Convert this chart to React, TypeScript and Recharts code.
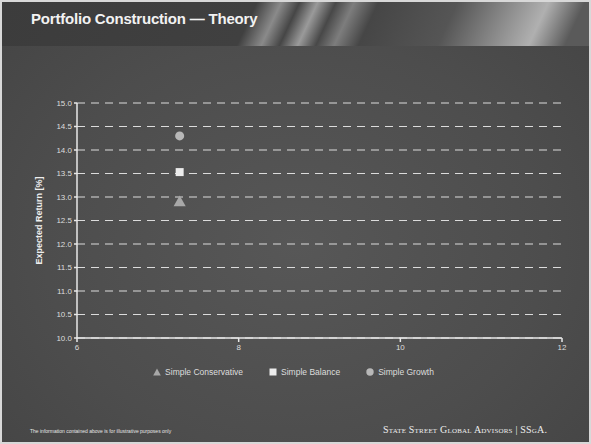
import { ScatterChart, Scatter, XAxis, YAxis, ZAxis, CartesianGrid, Legend } from 'recharts';

const conservative = [{ risk: 7.27, ret: 12.88 }];
const balance = [{ risk: 7.27, ret: 13.53 }];
const growth = [{ risk: 7.27, ret: 14.3 }];

const seriesNames = ['Simple Conservative', 'Simple Balance', 'Simple Growth'];
const xTicks = [6, 8, 10, 12];
const yTicks = [10, 10.5, 11, 11.5, 12, 12.5, 13, 13.5, 14, 14.5, 15];

const font = 'Arial, "Liberation Sans", sans-serif';

const LegendIcon = ({ type, color }: { type: string; color: string }) => {
  if (type === 'triangle') {
    return (
      <svg width={8} height={8} style={{ marginRight: 4 }}>
        <polygon points="4,0.5 7.8,7.5 0.2,7.5" fill={color} />
      </svg>
    );
  }
  if (type === 'square') {
    return (
      <svg width={8} height={8} style={{ marginRight: 4 }}>
        <rect x={0.5} y={0.5} width={7} height={7} fill={color} />
      </svg>
    );
  }
  return (
    <svg width={8} height={8} style={{ marginRight: 4 }}>
      <circle cx={4} cy={4} r={3.7} fill={color} />
    </svg>
  );
};

const renderLegend = (props: any) => {
  const items = [...(props.payload || [])].sort(
    (a: any, b: any) => seriesNames.indexOf(a.value) - seriesNames.indexOf(b.value)
  );
  return (
    <div style={{ display: 'flex', justifyContent: 'center', paddingRight: 32, fontSize: 8.5, fontFamily: font, color: '#dddddd' }}>
      {items.map((it: any) => (
        <div key={it.value} style={{ display: 'flex', alignItems: 'center', margin: '0 13px' }}>
          <LegendIcon type={it.type} color={it.color} />
          <span>{it.value}</span>
        </div>
      ))}
    </div>
  );
};

const App = () => {
  return (
    <div
      style={{
        position: 'absolute',
        left: 0,
        top: 0,
        width: 591,
        height: 444,
        overflow: 'hidden',
        fontFamily: font,
        background:
          'radial-gradient(ellipse at 50% 55%, #575757 0%, #4d4d4d 60%, #444 100%)',
        boxShadow: 'inset 0 0 0 2px #d8d8d8',
      }}
    >
      {/* title band */}
      <div
        style={{
          position: 'absolute',
          left: 2,
          top: 2,
          width: 587,
          height: 44,
          background:
            'linear-gradient(115deg, #3c3c3c 0%, #404040 42%, #8a8a8a 46%, #464646 49%, #9a9a9a 52%, #484848 55%, #7d7d7d 58%, #464646 62%, #555 75%, #b0b0b0 90%, #5a5a5a 96%)',
        }}
      />
      <div
        style={{
          position: 'absolute',
          left: 31,
          top: 10,
          color: '#f2f2f2',
          fontWeight: 'bold',
          fontSize: 15,
          letterSpacing: -0.2,
        }}
      >
        Portfolio Construction — Theory
      </div>

      <div style={{ position: 'absolute', left: 0, top: 0 }}>
        <ScatterChart width={591} height={444} margin={{ top: 103, right: 29, bottom: 57, left: 57 }}>
          <CartesianGrid vertical={false} stroke="#dcdcdc" strokeDasharray="8 6" strokeWidth={1} />
          <XAxis
            type="number"
            dataKey="risk"
            domain={[6, 12]}
            ticks={xTicks}
            height={29}
            stroke="#e8e8e8"
            strokeWidth={1.5}
            tickSize={4}
            tick={{ fill: '#dddddd', fontSize: 8, fontFamily: font }}
          />
          <YAxis
            type="number"
            dataKey="ret"
            domain={[10, 15]}
            ticks={yTicks}
            width={20}
            stroke="#e8e8e8"
            strokeWidth={1.5}
            tickSize={3}
            tickFormatter={(v: number) => v.toFixed(1)}
            tick={{ fill: '#dddddd', fontSize: 8, fontFamily: font }}
            label={{
              value: 'Expected Return [%]',
              angle: -90,
              position: 'insideLeft',
              offset: -18,
              style: { fill: '#eeeeee', fontSize: 9, fontWeight: 'bold', fontFamily: font, textAnchor: 'middle' },
            }}
          />
          <ZAxis range={[110, 110]} />
          <Legend verticalAlign="bottom" align="center" height={20} content={renderLegend} />
          <Scatter name="Simple Conservative" data={conservative} shape="triangle" fill="#a8a8a8" legendType="triangle" isAnimationActive={false} />
          <Scatter name="Simple Balance" data={balance} shape="square" fill="#ececec" legendType="square" isAnimationActive={false} />
          <Scatter name="Simple Growth" data={growth} shape="circle" fill="#b8b8b8" legendType="circle" isAnimationActive={false} />
        </ScatterChart>
      </div>

      {/* footer */}
      <div style={{ position: 'absolute', left: 30, top: 428, color: '#e6e6e6', fontSize: 5 }}>
        The information contained above is for illustrative purposes only
      </div>
      <div
        style={{
          position: 'absolute',
          left: 383,
          top: 424,
          color: '#eeeeee',
          fontSize: 10,
          fontFamily: '"Liberation Serif", "DejaVu Serif", serif',
          fontVariant: 'small-caps',
          letterSpacing: 0.2,
        }}
      >
        State Street Global Advisors | SSgA.
      </div>
    </div>
  );
};

export default App;
